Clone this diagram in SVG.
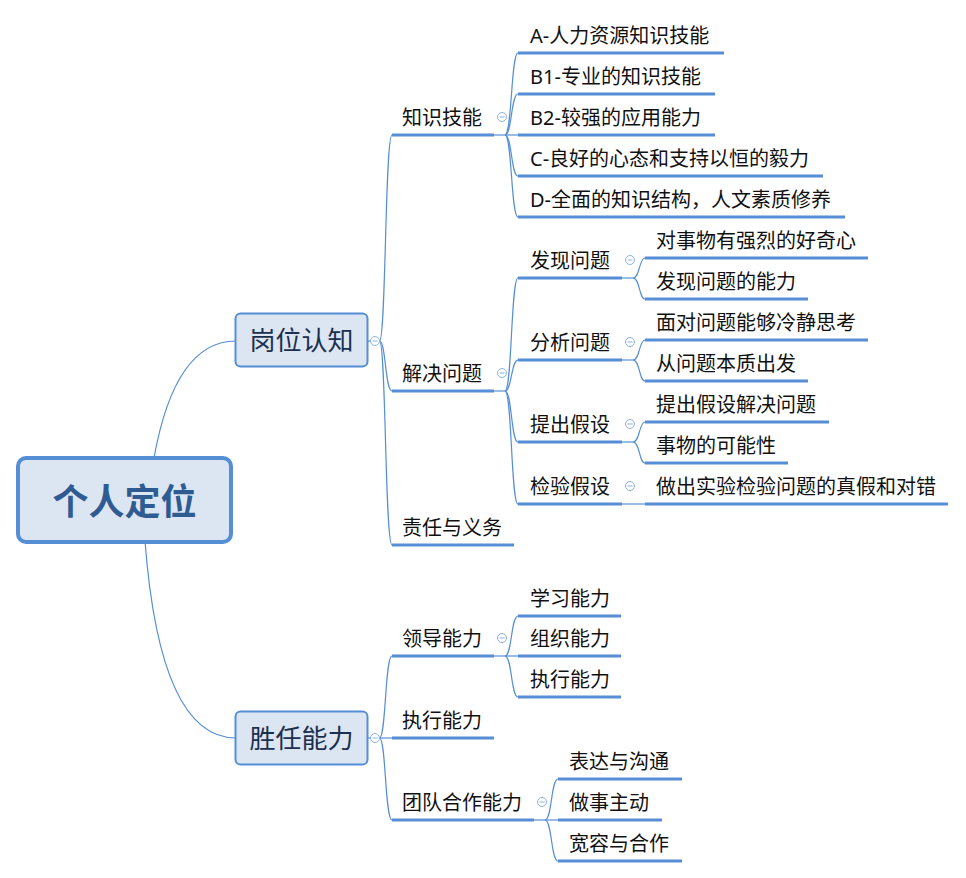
<svg xmlns="http://www.w3.org/2000/svg" width="966" height="878" viewBox="0 0 966 878">
<style>
.u{stroke:#558ED5;stroke-width:3;fill:none}
.c{stroke:#558ED5;stroke-width:1.2;fill:none}
.t{font-family:"Noto Sans","Noto Sans CJK SC",sans-serif;font-size:20px;fill:#111}
.box{fill:#DCE6F2;stroke:#558ED5}
.bt{font-family:"Noto Sans CJK SC",sans-serif;font-size:26px;fill:#1B2F4E;text-anchor:middle}
.tog circle{fill:#fff;stroke:#8DB3E2;stroke-width:1}
.tog line{stroke:#8DB3E2;stroke-width:1}
</style>
<rect width="966" height="878" fill="#fff"/>
<g id="connectors">
<path class="c" d="M154,458 Q175,341 236,341"/>
<path class="c" d="M145,541 Q160,738 236,738"/>
<path class="c" d="M368,341 L371,341"/>
<path class="c" d="M379.5,341 C386,341 385,135 392,135"/>
<path class="c" d="M379.5,341 C386,341 385,391 392,391"/>
<path class="c" d="M379.5,341 C386,341 385,545 392,545"/>
<path class="c" d="M368,738 L371,738"/>
<path class="c" d="M379.5,738 C386,738 385,656 392,656"/>
<path class="c" d="M379.5,738 L392,738"/>
<path class="c" d="M379.5,738 C386,738 385,820 392,820"/>
<path class="c" d="M494,135 L505,135"/>
<path class="c" d="M505,135 C512,135 511,53 518,53"/>
<path class="c" d="M505,135 C512,135 511,94 518,94"/>
<path class="c" d="M505,135 L518,135"/>
<path class="c" d="M505,135 C512,135 511,176 518,176"/>
<path class="c" d="M505,135 C512,135 511,217 518,217"/>
<path class="c" d="M494,391 L505,391"/>
<path class="c" d="M505,391 C512,391 511,278 518,278"/>
<path class="c" d="M505,391 C512,391 511,360 518,360"/>
<path class="c" d="M505,391 C512,391 511,442 518,442"/>
<path class="c" d="M505,391 C512,391 511,504 518,504"/>
<path class="c" d="M622,278 L633,278"/>
<path class="c" d="M633,278 C640,278 639,258 645,258"/>
<path class="c" d="M633,278 C640,278 639,299 645,299"/>
<path class="c" d="M622,360 L633,360"/>
<path class="c" d="M633,360 C640,360 639,340 645,340"/>
<path class="c" d="M633,360 C640,360 639,381 645,381"/>
<path class="c" d="M622,442 L633,442"/>
<path class="c" d="M633,442 C640,442 639,422 645,422"/>
<path class="c" d="M633,442 C640,442 639,463 645,463"/>
<path class="c" d="M622,504 L645,504"/>
<path class="c" d="M494,656 L505,656"/>
<path class="c" d="M505,656 C512,656 511,616 518,616"/>
<path class="c" d="M505,656 L518,656"/>
<path class="c" d="M505,656 C512,656 511,697 518,697"/>
<path class="c" d="M534,820 L545,820"/>
<path class="c" d="M545,820 C552,820 551,779 558,779"/>
<path class="c" d="M545,820 L558,820"/>
<path class="c" d="M545,820 C552,820 551,861 558,861"/>
</g>
<g id="root">
<rect x="18" y="458" width="213" height="84" rx="8" class="box" stroke-width="4"/>
<text x="124.5" y="515" font-family="'Noto Sans CJK SC',sans-serif" font-size="36" font-weight="bold" fill="#2F5B93" text-anchor="middle">个人定位</text>
</g>
<g id="n-gangwei">
<rect x="235.5" y="313.5" width="132" height="53" rx="5" class="box" stroke-width="2"/>
<text x="301.5" y="350" class="bt">岗位认知</text>
</g>
<g id="n-shengren">
<rect x="235.5" y="711.5" width="132" height="53" rx="5" class="box" stroke-width="2"/>
<text x="301.5" y="748" class="bt">胜任能力</text>
</g>
<g id="n-zhishi"><path class="u" d="M392,135H494"/><text class="t" x="402" y="125">知识技能</text></g>
<g id="n-jiejue"><path class="u" d="M392,391H494"/><text class="t" x="402" y="381">解决问题</text></g>
<g id="n-zeren"><path class="u" d="M392,545H514"/><text class="t" x="402" y="535">责任与义务</text></g>
<g id="n-a"><path class="u" d="M518,53H724"/><text class="t" x="530" y="43">A-人力资源知识技能</text></g>
<g id="n-b1"><path class="u" d="M518,94H715"/><text class="t" x="530" y="84">B1-专业的知识技能</text></g>
<g id="n-b2"><path class="u" d="M518,135H715"/><text class="t" x="530" y="125">B2-较强的应用能力</text></g>
<g id="n-c"><path class="u" d="M518,176H823"/><text class="t" x="530" y="166">C-良好的心态和支持以恒的毅力</text></g>
<g id="n-d"><path class="u" d="M518,217H845"/><text class="t" x="530" y="207">D-全面的知识结构，人文素质修养</text></g>
<g id="n-faxian"><path class="u" d="M518,278H622"/><text class="t" x="530" y="268">发现问题</text></g>
<g id="n-fenxi"><path class="u" d="M518,360H622"/><text class="t" x="530" y="350">分析问题</text></g>
<g id="n-tichu"><path class="u" d="M518,442H622"/><text class="t" x="530" y="432">提出假设</text></g>
<g id="n-jianyan"><path class="u" d="M518,504H622"/><text class="t" x="530" y="494">检验假设</text></g>
<g id="n-f1"><path class="u" d="M645,258H868"/><text class="t" x="656" y="248">对事物有强烈的好奇心</text></g>
<g id="n-f2"><path class="u" d="M645,299H808"/><text class="t" x="656" y="289">发现问题的能力</text></g>
<g id="n-a1"><path class="u" d="M645,340H868"/><text class="t" x="656" y="330">面对问题能够冷静思考</text></g>
<g id="n-a2"><path class="u" d="M645,381H808"/><text class="t" x="656" y="371">从问题本质出发</text></g>
<g id="n-t1"><path class="u" d="M645,422H829"/><text class="t" x="656" y="412">提出假设解决问题</text></g>
<g id="n-t2"><path class="u" d="M645,463H788"/><text class="t" x="656" y="453">事物的可能性</text></g>
<g id="n-j1"><path class="u" d="M645,504H948"/><text class="t" x="656" y="494">做出实验检验问题的真假和对错</text></g>
<g id="n-lingdao"><path class="u" d="M392,656H494"/><text class="t" x="402" y="646">领导能力</text></g>
<g id="n-zhixing"><path class="u" d="M392,738H494"/><text class="t" x="402" y="728">执行能力</text></g>
<g id="n-tuandui"><path class="u" d="M392,820H534"/><text class="t" x="402" y="810">团队合作能力</text></g>
<g id="n-xuexi"><path class="u" d="M518,616H621"/><text class="t" x="530" y="606">学习能力</text></g>
<g id="n-zuzhi"><path class="u" d="M518,656H621"/><text class="t" x="530" y="646">组织能力</text></g>
<g id="n-zhixing2"><path class="u" d="M518,697H621"/><text class="t" x="530" y="687">执行能力</text></g>
<g id="n-biaoda"><path class="u" d="M558,779H682"/><text class="t" x="569" y="769">表达与沟通</text></g>
<g id="n-zuoshi"><path class="u" d="M558,820H662"/><text class="t" x="569" y="810">做事主动</text></g>
<g id="n-kuanrong"><path class="u" d="M558,861H682"/><text class="t" x="569" y="851">宽容与合作</text></g>
<g id="toggles" class="tog">
<circle cx="375" cy="341" r="4.5"/><line x1="372.5" y1="341" x2="377.5" y2="341"/>
<circle cx="375" cy="738" r="4.5"/><line x1="372.5" y1="738" x2="377.5" y2="738"/>
<circle cx="502" cy="117" r="4.5"/><line x1="499.5" y1="117" x2="504.5" y2="117"/>
<circle cx="502" cy="373" r="4.5"/><line x1="499.5" y1="373" x2="504.5" y2="373"/>
<circle cx="630" cy="260" r="4.5"/><line x1="627.5" y1="260" x2="632.5" y2="260"/>
<circle cx="630" cy="342" r="4.5"/><line x1="627.5" y1="342" x2="632.5" y2="342"/>
<circle cx="630" cy="424" r="4.5"/><line x1="627.5" y1="424" x2="632.5" y2="424"/>
<circle cx="630" cy="486" r="4.5"/><line x1="627.5" y1="486" x2="632.5" y2="486"/>
<circle cx="502" cy="638" r="4.5"/><line x1="499.5" y1="638" x2="504.5" y2="638"/>
<circle cx="542" cy="802" r="4.5"/><line x1="539.5" y1="802" x2="544.5" y2="802"/>
</g>
</svg>
